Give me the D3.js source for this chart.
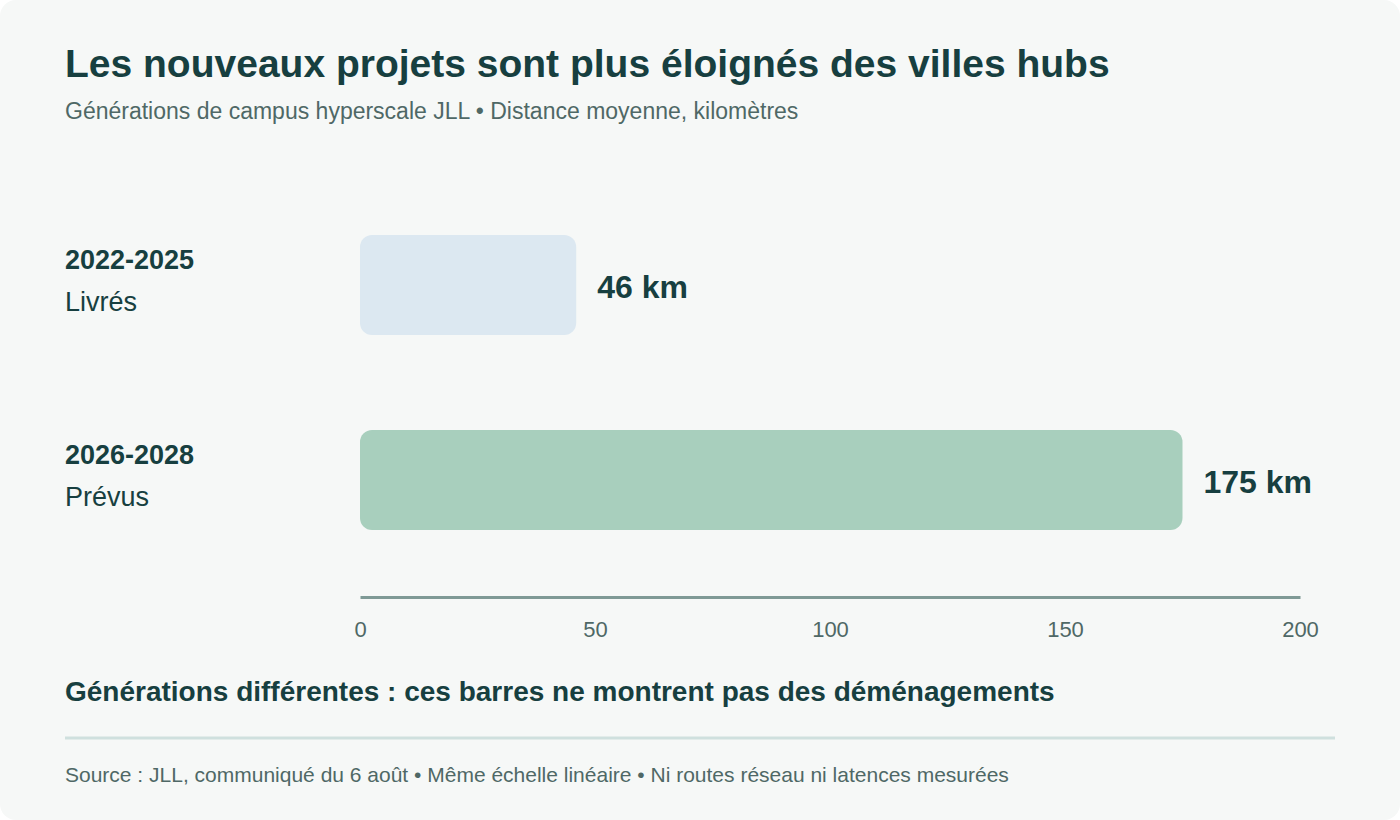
<!DOCTYPE html>
<html><head><meta charset="utf-8">
<script src="https://cdn.jsdelivr.net/npm/d3@7"></script>
<style>html,body{margin:0;padding:0;background:#fff;}svg{display:block;font-family:"Liberation Sans",Arial,sans-serif;}</style>
</head><body>
<svg id="c" width="1400" height="820"></svg>
<script>
const periods = ["2022-2025", "2026-2028"];
const statuses = ["Livrés", "Prévus"];
const distances = [46, 175];
const barColors = ["#dce8f1", "#a8cfbd"];
const ticks = [0, 50, 100, 150, 200];

const svg = d3.select("#c");
svg.append("rect").attr("width",1400).attr("height",820).attr("rx",16).attr("fill","#f6f8f7");
const ink="#173f40", muted="#4f6866";
svg.append("text").attr("x",65).attr("y",77).attr("font-size",39).attr("font-weight",700).attr("fill",ink)
  .text("Les nouveaux projets sont plus éloignés des villes hubs");
svg.append("text").attr("x",65).attr("y",119).attr("font-size",23).attr("fill",muted)
  .text("Générations de campus hyperscale JLL • Distance moyenne, kilomètres");

const x = d3.scaleLinear().domain([0,200]).range([360,1300]);
const yc = d => [285,480][periods.indexOf(d)];
periods.forEach((p,i)=>{
  const cy = yc(p);
  svg.append("rect").attr("x",x(0)).attr("y",cy-50).attr("width",x(distances[i])-x(0)).attr("height",100)
    .attr("rx",12).attr("fill",barColors[i]);
  svg.append("text").attr("x",65).attr("y",cy-16).attr("font-size",27).attr("font-weight",700).attr("fill",ink).text(p);
  svg.append("text").attr("x",65).attr("y",cy+26).attr("font-size",27).attr("fill",ink).text(statuses[i]);
  svg.append("text").attr("x",x(distances[i])+21).attr("y",cy+13).attr("font-size",32).attr("font-weight",700).attr("fill",ink)
    .text(distances[i]+" km");
});
const ax = svg.append("g").attr("transform","translate(0,597)")
  .call(d3.axisBottom(x).tickValues(ticks).tickSize(0).tickPadding(24));
ax.select(".domain").attr("stroke","#7f9a96").attr("stroke-width",3);
ax.selectAll("text").attr("font-size",22).attr("fill",muted).attr("font-family","Liberation Sans, Arial, sans-serif");
svg.append("text").attr("x",65).attr("y",701).attr("font-size",28).attr("font-weight",700).attr("fill",ink)
  .text("Générations différentes : ces barres ne montrent pas des déménagements");
svg.append("line").attr("x1",65).attr("x2",1335).attr("y1",738).attr("y2",738).attr("stroke","#cfe0de").attr("stroke-width",3);
svg.append("text").attr("x",65).attr("y",782).attr("font-size",21).attr("fill",muted)
  .text("Source : JLL, communiqué du 6 août • Même échelle linéaire • Ni routes réseau ni latences mesurées");
</script>
</body></html>
